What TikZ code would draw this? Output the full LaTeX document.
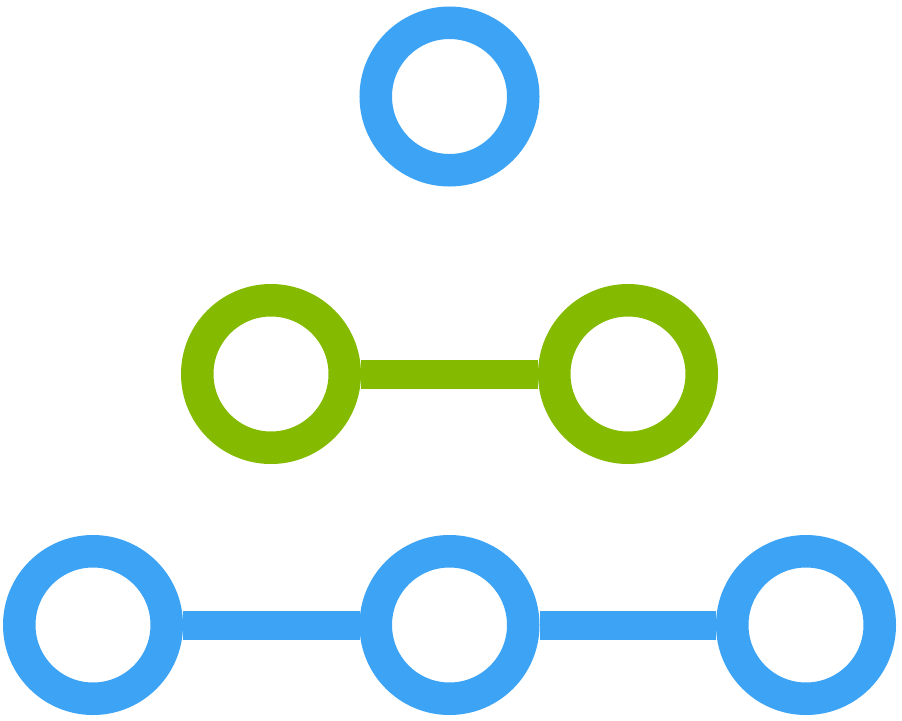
\documentclass[tikz,border=0pt]{standalone}
\definecolor{ringblue}{HTML}{3CA3F5}
\definecolor{ringgreen}{HTML}{84BA00}
\begin{document}
\begin{tikzpicture}[x=1pt,y=-1pt,
  ring/.style={circle,draw=#1,line width=32.5pt,minimum size=147.5pt,inner sep=0pt},
  link/.style={draw=#1,line width=29pt}]
\useasboundingbox (0,0) rectangle (902,720);
\node[ring=ringblue] (top) at (449.5,96.5) {};
\node[ring=ringgreen] (gl) at (271,374) {};
\node[ring=ringgreen] (gr) at (628,374) {};
\node[ring=ringblue] (bl) at (93,625) {};
\node[ring=ringblue] (bm) at (449.5,625) {};
\node[ring=ringblue] (br) at (806,625) {};
\draw[link=ringgreen] (gl) -- (gr);
\draw[link=ringblue] (bl) -- (bm);
\draw[link=ringblue] (bm) -- (br);
\end{tikzpicture}
\end{document}
